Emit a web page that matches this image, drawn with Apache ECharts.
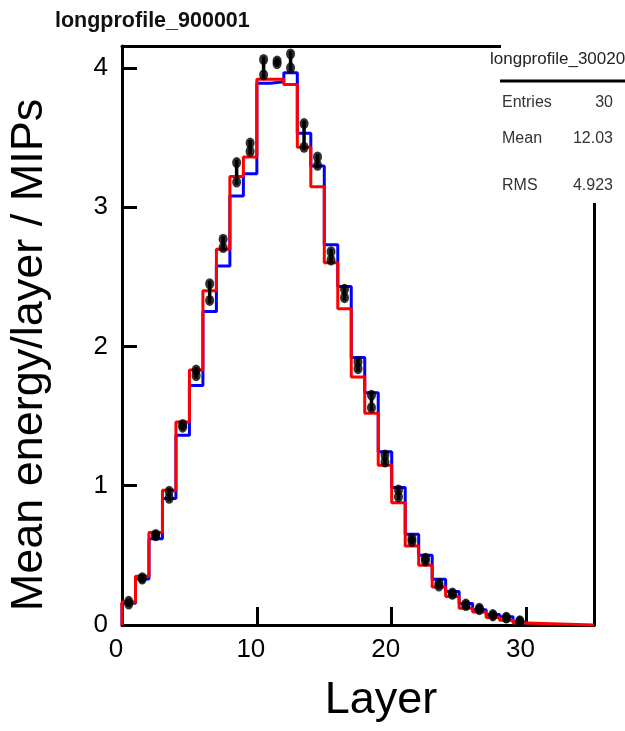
<!DOCTYPE html>
<html>
<head>
<meta charset="utf-8">
<script src="https://cdn.jsdelivr.net/npm/echarts@6/dist/echarts.min.js"></script>
<style>html,body{margin:0;padding:0;background:#fff}#c{width:625px;height:731px}</style>
</head>
<body>
<div id="c"></div>
<script>
// bin lower edges (layer number)
const layers = [0,1,2,3,4,5,6,7,8,9,10,11,12,13,14,15,16,17,18,19,20,21,22,23,24,25,26,27,28,29];
// simulation histogram (red)
const simRed = [0.165,0.35,0.664,0.968,1.458,1.83,2.40,2.697,3.22,3.36,3.918,3.918,3.88,3.43,3.146,2.60,2.27,1.78,1.52,1.147,0.877,0.568,0.429,0.273,0.205,0.12,0.093,0.053,0.034,0.014];
// simulation histogram (blue)
const simBlue = [0.156,0.33,0.62,0.908,1.363,1.72,2.25,2.577,3.08,3.24,3.89,3.90,3.965,3.53,3.295,2.73,2.43,1.92,1.667,1.243,0.987,0.652,0.50,0.328,0.24,0.155,0.11,0.075,0.06,0.02];
// data points (upper / lower markers)
const dataHi = [0.17,0.34,0.65,0.96,1.44,1.83,2.45,2.77,3.32,3.46,4.06,4.05,4.10,3.60,3.36,2.68,2.41,1.89,1.65,1.22,0.97,0.62,0.48,0.30,0.23,0.15,0.12,0.075,0.055,0.03];
const dataLo = [0.15,0.33,0.64,0.91,1.42,1.79,2.33,2.71,3.18,3.40,3.95,4.03,4.00,3.43,3.30,2.62,2.35,1.84,1.56,1.17,0.92,0.60,0.46,0.28,0.22,0.14,0.11,0.065,0.05,0.025];
const xTicks = [0,10,20,30];
const yTicks = [0,1,2,3,4];
const xMax = 35, yMax = 4.157;
const statsTitle = 'longprofile_300200';
const statsRows = [['Entries','30'],['Mean','12.03'],['RMS','4.923']];

function histLine(vals, extendTo) {
  const d = [[layers[0], 0]];
  for (let i = 0; i < vals.length; i++) d.push([layers[i], vals[i]]);
  const end = layers[layers.length - 1] + 1;
  d.push([end, 0]);
  if (extendTo) d.push([extendTo, 0]);
  return d;
}

const FONT = '"Liberation Sans", Arial, Helvetica, sans-serif';
const chart = echarts.init(document.getElementById('c'), null, {renderer: 'canvas'});

const pointsHi = layers.map((l, i) => [l + 0.5, dataHi[i]]);
const pointsLo = layers.map((l, i) => [l + 0.5, dataLo[i]]);
const errData = layers.map((l, i) => [l + 0.5, dataLo[i], dataHi[i]]);

const option = {
  animation: false,
  backgroundColor: '#fff',
  grid: {left: 122, right: 31, top: 46, bottom: 106},
  xAxis: [{
    type: 'value', min: 0, max: xMax, interval: 10,
    axisLine: {show: true, onZero: false, lineStyle: {color: '#000', width: 3}},
    axisTick: {show: true, inside: true, length: 18, lineStyle: {color: '#000', width: 3},
      customValues: xTicks},
    axisLabel: {show: true, fontFamily: FONT, fontSize: 26, color: '#000', margin: 12,
      padding: [0, 12, 0, 0], customValues: xTicks},
    splitLine: {show: false}
  }, {
    type: 'value', min: 0, max: xMax, position: 'top',
    axisLine: {show: true, onZero: false, lineStyle: {color: '#000', width: 3}},
    axisTick: {show: false}, axisLabel: {show: false}, splitLine: {show: false}
  }],
  yAxis: [{
    type: 'value', min: 0, max: yMax, interval: 1,
    axisLine: {show: true, onZero: false, lineStyle: {color: '#000', width: 3}},
    axisTick: {show: true, inside: true, length: 15, lineStyle: {color: '#000', width: 3},
      customValues: yTicks},
    axisLabel: {show: true, fontFamily: FONT, fontSize: 26, color: '#000', margin: 14,
      customValues: yTicks},
    splitLine: {show: false}
  }, {
    type: 'value', min: 0, max: yMax, position: 'right',
    axisLine: {show: true, onZero: false, lineStyle: {color: '#000', width: 3}},
    axisTick: {show: false}, axisLabel: {show: false}, splitLine: {show: false}
  }],
  series: [
    {
      type: 'line', name: 'blue', step: 'end', data: histLine(simBlue), symbol: 'none', clip: false,
      lineStyle: {color: '#0000ff', width: 3}, z: 2
    },
    {
      type: 'line', name: 'red', step: 'end', data: histLine(simRed, xMax), symbol: 'none', clip: false,
      lineStyle: {color: '#ff0000', width: 3}, z: 3
    },
    {
      type: 'custom', name: 'err', data: errData, z: 4,
      renderItem: function (params, api) {
        const lo = api.coord([api.value(0), api.value(1)]);
        const hi = api.coord([api.value(0), api.value(2)]);
        return {type: 'line', shape: {x1: lo[0], y1: lo[1] + 3, x2: hi[0], y2: hi[1] - 3},
          style: {stroke: '#000', lineWidth: 3.5}};
      }
    },
    {
      type: 'scatter', name: 'dataHi', data: pointsHi, symbol: 'circle', symbolSize: [9, 11],
      itemStyle: {color: '#000'}, z: 5
    },
    {
      type: 'scatter', name: 'dataLo', data: pointsLo, symbol: 'circle', symbolSize: [9, 11],
      itemStyle: {color: '#000'}, z: 5
    }
  ],
  graphic: [
    {type: 'text', left: 55, top: 10, z: 100,
      style: {text: 'longprofile_900001', font: 'bold 21.5px ' + FONT, fill: '#111'}},
    {type: 'text', x: 381, y: 701, z: 100,
      style: {text: 'Layer', font: '45px ' + FONT, fill: '#000', align: 'center', verticalAlign: 'middle'}},
    {type: 'text', x: 30, y: 355, rotation: Math.PI / 2, z: 100,
      style: {text: 'Mean energy/layer / MIPs', font: '45px ' + FONT, fill: '#000', align: 'center', verticalAlign: 'middle'}},
    {type: 'group', z: 100, children: [
      {type: 'rect', shape: {x: 501, y: 38, width: 130, height: 165}, style: {fill: '#fff'}, z: 100},
      {type: 'text', x: 490, y: 59, z: 101,
        style: {text: statsTitle, font: '17px ' + FONT, fill: '#222', verticalAlign: 'middle'}},
      {type: 'line', shape: {x1: 500, y1: 81, x2: 625, y2: 81}, style: {stroke: '#000', lineWidth: 3}, z: 101},
      {type: 'text', x: 502, y: 103, z: 101, style: {text: statsRows[0][0], font: '16px ' + FONT, fill: '#333', verticalAlign: 'middle'}},
      {type: 'text', x: 613, y: 103, z: 101, style: {text: statsRows[0][1], font: '16px ' + FONT, fill: '#333', align: 'right', verticalAlign: 'middle'}},
      {type: 'text', x: 502, y: 139, z: 101, style: {text: statsRows[1][0], font: '16px ' + FONT, fill: '#333', verticalAlign: 'middle'}},
      {type: 'text', x: 613, y: 139, z: 101, style: {text: statsRows[1][1], font: '16px ' + FONT, fill: '#333', align: 'right', verticalAlign: 'middle'}},
      {type: 'text', x: 502, y: 186, z: 101, style: {text: statsRows[2][0], font: '16px ' + FONT, fill: '#333', verticalAlign: 'middle'}},
      {type: 'text', x: 613, y: 186, z: 101, style: {text: statsRows[2][1], font: '16px ' + FONT, fill: '#333', align: 'right', verticalAlign: 'middle'}}
    ]}
  ]
};
chart.setOption(option);
</script>
</body>
</html>
